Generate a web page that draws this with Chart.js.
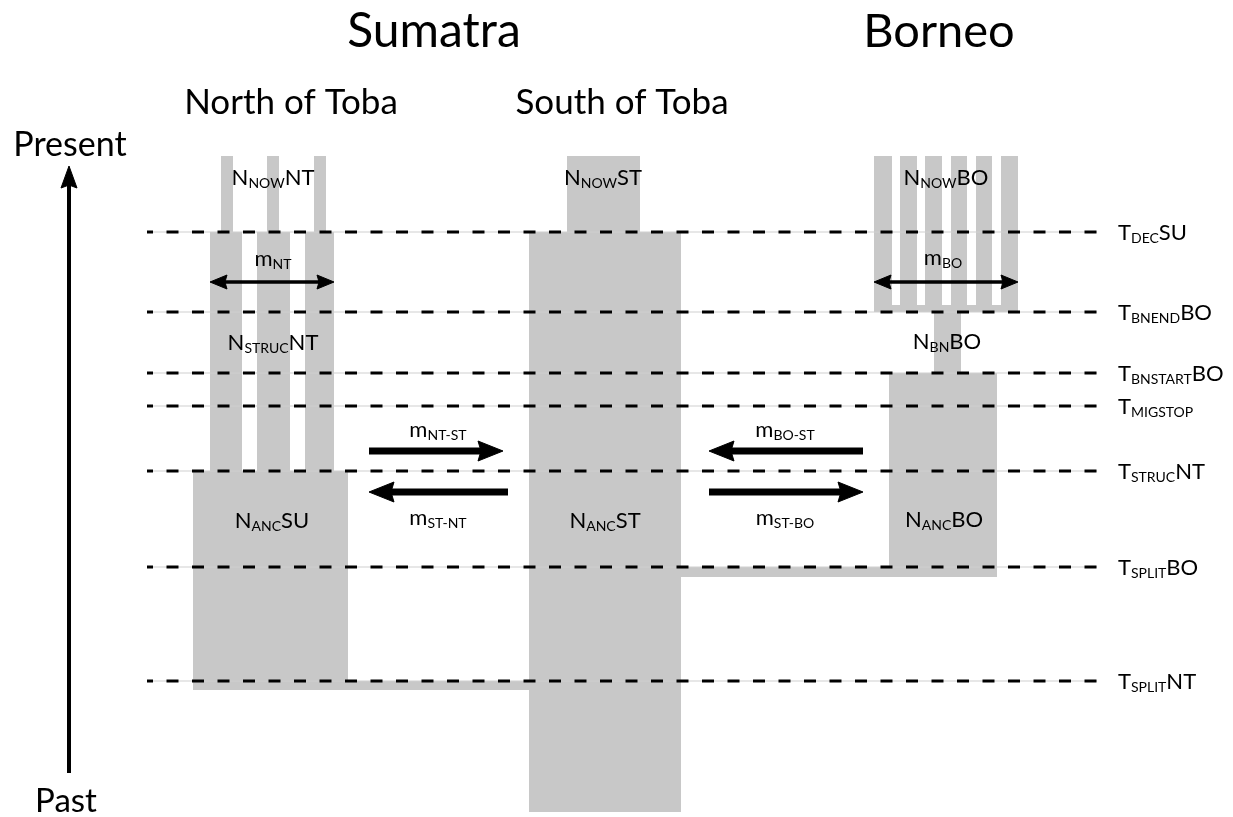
<!DOCTYPE html>
<html>
<head>
<meta charset="utf-8">
<script src="https://cdn.jsdelivr.net/npm/chart.js@4.4.1/dist/chart.umd.min.js"></script>
<style>
html, body { margin: 0; padding: 0; background: #fff; }
#wrap { width: 1233px; height: 817px; }
</style>
</head>
<body>
<div id="wrap"><canvas id="diagram" width="1233" height="817"></canvas></div>
<script>
////////////////////////////// data \\\\\\\\\\\\\\\\\\\\\\\\\\\\\\

// event times (dashed lines), top of the page = present
const eventLabels = [['T','DEC','SU'], ['T','BNEND','BO'], ['T','BNSTART','BO'], ['T','MIGSTOP',''],
                     ['T','STRUC','NT'], ['T','SPLIT','BO'], ['T','SPLIT','NT']];
const eventTimes = [232, 312, 373, 406, 471, 567, 681];
const eventStart = 147;
const eventEnd = 1097;

// population blocks (width = population size, height = time span)
const blockLeft   = [221, 267, 314, 210, 257, 305, 193, 348, 567, 529, 874, 900, 925, 951, 976, 1001, 874, 934, 889, 681];
const blockRight  = [233, 279, 326, 242, 290, 334, 348, 530, 640, 681, 892, 917, 942, 967, 992, 1018, 1018, 961, 997, 997];
const blockTop    = [156, 156, 156, 232, 232, 232, 471, 681, 156, 232, 156, 156, 156, 156, 156, 156, 305, 312, 373, 567];
const blockBottom = [232, 232, 232, 471, 471, 471, 690, 690, 232, 812, 312, 312, 312, 312, 312, 312, 312, 373, 577, 577];

// population size labels
const sizeLabels = [['N','NOW','NT'], ['N','STRUC','NT'], ['N','ANC','SU'], ['N','NOW','ST'],
                    ['N','ANC','ST'], ['N','NOW','BO'], ['N','BN','BO'], ['N','ANC','BO']];
const sizeX = [273, 273, 272, 603, 605, 946, 947, 944];
const sizeY = [185, 350, 528, 185, 528, 185, 349, 527];

// migration between demes
const migFrom  = [369, 508, 863, 709];
const migTo    = [503, 369, 709, 863];
const migLevel = [451, 492, 451, 492];
const migLabels = [['m','NT-ST',''], ['m','ST-NT',''], ['m','BO-ST',''], ['m','ST-BO','']];
const migLabelX = [438, 438, 785, 785];
const migLabelY = [437, 525, 437, 525];

// migration within structured demes (double arrows)
const demeFrom  = [210, 874];
const demeTo    = [334, 1018];
const demeLevel = [282, 282];
const demeLabels = [['m','NT',''], ['m','BO','']];
const demeLabelX = [273, 943];
const demeLabelY = [266, 265];

// titles
const titleText = ['Sumatra', 'Borneo', 'North of Toba', 'South of Toba', 'Present', 'Past'];
const titleX    = [434, 939, 291, 622, 70, 66];
const titleY    = [47, 47, 114, 114, 156, 812];
const titleSize = [48, 47, 35, 35, 34, 33];

// time arrow
const timeArrowX = 69;
const timeArrowTop = 166;
const timeArrowBottom = 773;

////////////////////////////// datasets \\\\\\\\\\\\\\\\\\\\\\\\\\\\\\

const GREY = '#c8c8c8';
const NONE = 'rgba(0,0,0,0)';
let datasets = [];

for (let i = 0; i < blockLeft.length; i++) {
  datasets.push({
    data: [{x: blockLeft[i], y: blockTop[i]}, {x: blockRight[i], y: blockTop[i]}],
    fill: {value: blockBottom[i]},
    backgroundColor: GREY, borderColor: NONE, borderWidth: 0, pointRadius: 0, order: 5
  });
}

for (let i = 0; i < eventTimes.length; i++) {
  // faint guide under the dashes
  datasets.push({
    data: [{x: eventStart, y: eventTimes[i]}, {x: eventEnd, y: eventTimes[i]}],
    borderColor: '#cfcfcf', borderWidth: 1, pointRadius: 0, fill: false, order: 4
  });
  datasets.push({
    data: [{x: eventStart, y: eventTimes[i]}, {x: eventEnd, y: eventTimes[i]}],
    borderColor: '#000', borderWidth: 3, borderDash: [12, 13.5], borderDashOffset: 6,
    borderCapStyle: 'butt', pointRadius: 0, fill: false, order: 3
  });
}

function shaft(x0, y0, x1, y1, w) {
  datasets.push({
    data: [{x: x0, y: y0}, {x: x1, y: y1}],
    borderColor: '#000', borderWidth: w, borderCapStyle: 'butt', pointRadius: 0, fill: false, order: 2
  });
}
function head(pts) {
  datasets.push({
    data: pts, fill: 'shape', backgroundColor: '#000', borderColor: '#000', borderWidth: 1,
    pointRadius: 0, order: 1
  });
}
function hHead(tip, y, len, half, dir) {
  const base = tip - dir * len;
  head([{x: base, y: y - half}, {x: tip, y: y}, {x: base, y: y + half}, {x: base + dir * len * 0.12, y: y}, {x: base, y: y - half}]);
}

for (let i = 0; i < migFrom.length; i++) {
  const dir = migTo[i] > migFrom[i] ? 1 : -1;
  shaft(migFrom[i], migLevel[i], migTo[i] - dir * 18, migLevel[i], 7);
  hHead(migTo[i], migLevel[i], 25, 10, dir);
}
for (let i = 0; i < demeFrom.length; i++) {
  shaft(demeFrom[i] + 12, demeLevel[i], demeTo[i] - 12, demeLevel[i], 3.5);
  hHead(demeTo[i], demeLevel[i], 17, 7, 1);
  hHead(demeFrom[i], demeLevel[i], 17, 7, -1);
}
shaft(timeArrowX, timeArrowBottom, timeArrowX, timeArrowTop + 18, 4);
head([{x: timeArrowX - 8, y: timeArrowTop + 22}, {x: timeArrowX, y: timeArrowTop},
      {x: timeArrowX + 8, y: timeArrowTop + 22}, {x: timeArrowX, y: timeArrowTop + 19},
      {x: timeArrowX - 8, y: timeArrowTop + 22}]);

////////////////////////////// text \\\\\\\\\\\\\\\\\\\\\\\\\\\\\\

const FONT = 'Lato, "Open Sans", sans-serif';

function drawRich(ctx, parts, x, y, size, align) {
  const mainF = size + 'px ' + FONT;
  const subF = Math.round(size * 0.64) + 'px ' + FONT;
  ctx.font = mainF; const w0 = ctx.measureText(parts[0]).width;
  ctx.font = subF;  const w1 = ctx.measureText(parts[1]).width;
  ctx.font = mainF; const w2 = ctx.measureText(parts[2]).width;
  let cx = align === 'left' ? x : x - (w0 + w1 + w2) / 2;
  ctx.textAlign = 'left';
  ctx.textBaseline = 'alphabetic';
  ctx.font = mainF; ctx.fillText(parts[0], cx, y); cx += w0;
  ctx.font = subF;  ctx.fillText(parts[1], cx, y + size * 0.12); cx += w1;
  ctx.font = mainF; ctx.fillText(parts[2], cx, y);
}

const textPlugin = {
  id: 'diagramText',
  afterDraw(chart) {
    const ctx = chart.ctx;
    const xs = chart.scales.x, ys = chart.scales.y;
    ctx.save();
    ctx.fillStyle = '#000';
    for (let i = 0; i < titleText.length; i++) {
      ctx.font = titleSize[i] + 'px ' + FONT;
      ctx.textAlign = 'center';
      ctx.textBaseline = 'alphabetic';
      ctx.fillText(titleText[i], xs.getPixelForValue(titleX[i]), ys.getPixelForValue(titleY[i]));
    }
    for (let i = 0; i < eventTimes.length; i++) {
      drawRich(ctx, eventLabels[i], xs.getPixelForValue(eventEnd + 21), ys.getPixelForValue(eventTimes[i] + 8), 22, 'left');
    }
    for (let i = 0; i < sizeLabels.length; i++) {
      drawRich(ctx, sizeLabels[i], xs.getPixelForValue(sizeX[i]), ys.getPixelForValue(sizeY[i]), 22, 'center');
    }
    for (let i = 0; i < migLabels.length; i++) {
      drawRich(ctx, migLabels[i], xs.getPixelForValue(migLabelX[i]), ys.getPixelForValue(migLabelY[i]), 22, 'center');
    }
    for (let i = 0; i < demeLabels.length; i++) {
      drawRich(ctx, demeLabels[i], xs.getPixelForValue(demeLabelX[i]), ys.getPixelForValue(demeLabelY[i]), 22, 'center');
    }
    ctx.restore();
  }
};

const ctx = document.getElementById('diagram').getContext('2d');
const diagram = new Chart(ctx, {
  type: 'line',
  data: { datasets: datasets },
  options: {
    responsive: false,
    animation: false,
    devicePixelRatio: 1,
    events: [],
    layout: { padding: 0 },
    elements: { line: { tension: 0 } },
    scales: {
      x: { type: 'linear', min: 0, max: 1233, display: false },
      y: { type: 'linear', min: 0, max: 817, reverse: true, display: false }
    },
    plugins: { legend: { display: false }, tooltip: { enabled: false } }
  },
  plugins: [textPlugin]
});
</script>
</body>
</html>
